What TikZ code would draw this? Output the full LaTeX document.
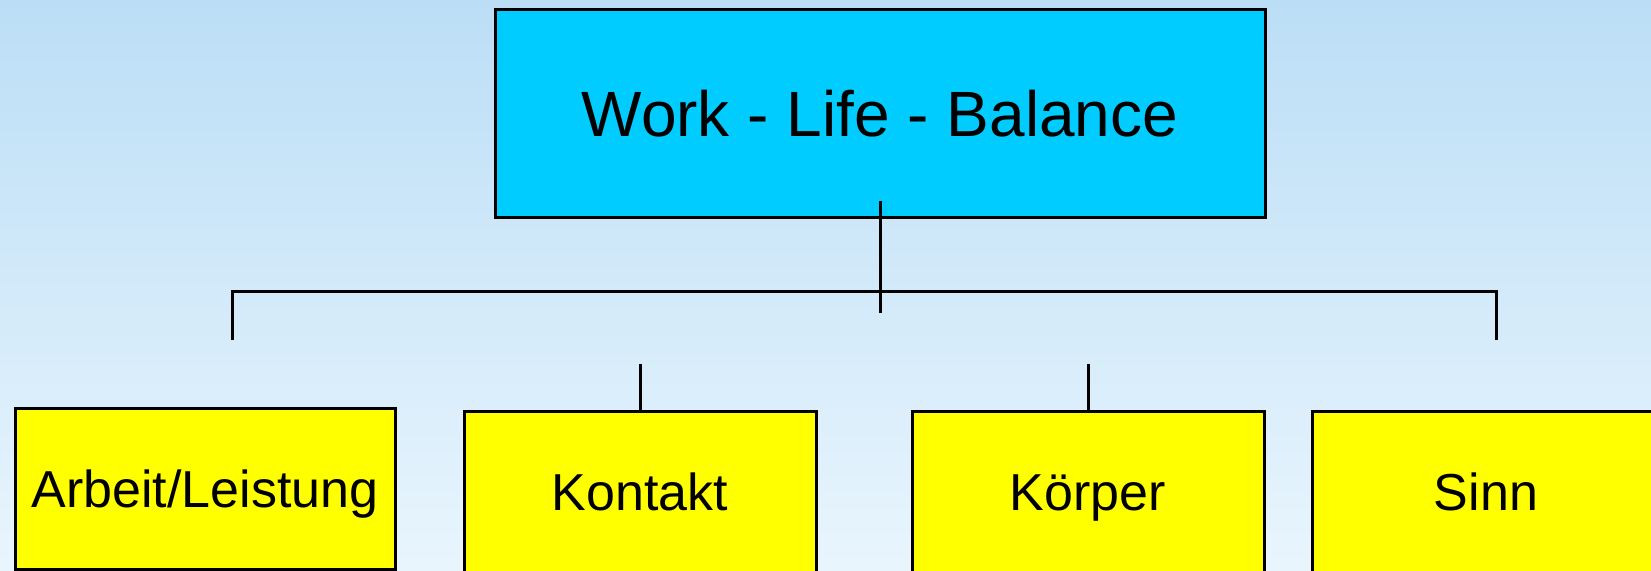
\documentclass[tikz,border=0pt]{standalone}
\usepackage{fontspec}
\setmainfont{Liberation Sans}
\definecolor{bgtop}{RGB}{187,222,246}
\definecolor{bgbot}{RGB}{233,245,253}
\definecolor{cyanbox}{RGB}{0,204,255}
\definecolor{leafyellow}{RGB}{255,255,0}
\begin{document}
\begin{tikzpicture}[x=1pt,y=1pt,
  box/.style={draw=black, line width=3pt, inner sep=0pt, text depth=0pt, anchor=center},
  head/.style={box, fill=cyanbox, minimum width=770pt, minimum height=208.5pt, text height=45.8pt, font=\fontsize{64}{70}\selectfont},
  leaf/.style={box, fill=leafyellow, text height=37.2pt, font=\fontsize{52}{60}\selectfont},
  conn/.style={draw=black, line width=3pt}]
\shade[top color=bgtop, bottom color=bgbot] (0,0) rectangle (1651,570);
\useasboundingbox (0,0) rectangle (1651,570);
% nodes
\node[head] (wlb) at (880,456.25) {Work - Life - Balance};
\node[leaf, minimum width=380pt, minimum height=160pt] (arbeit) at (205,81) {Arbeit/Leistung};
\node[leaf, minimum width=352pt, minimum height=160pt] (kontakt) at (640,78) {Kontakt};
\node[leaf, minimum width=352pt, minimum height=160pt] (koerper) at (1088,78) {Körper};
\node[leaf, minimum width=348pt, minimum height=160pt] (sinn) at (1486,78) {Sinn};
% connector points
\coordinate (tvtop) at (880,369);
\coordinate (tvbot) at (880,257);
\coordinate (hl) at (232,278);
\coordinate (hr) at (1496,278);
\coordinate (dl) at (232,230);
\coordinate (dr) at (1496,230);
\coordinate (kt) at (640,206);
\coordinate (kp) at (1088,206);
% connectors
\draw[conn] (tvtop) -- (tvbot);
\draw[conn] (dl) -- (hl) -- (hr) -- (dr);
\draw[conn] (kt) -- (kontakt.north);
\draw[conn] (kp) -- (koerper.north);
\end{tikzpicture}
\end{document}
